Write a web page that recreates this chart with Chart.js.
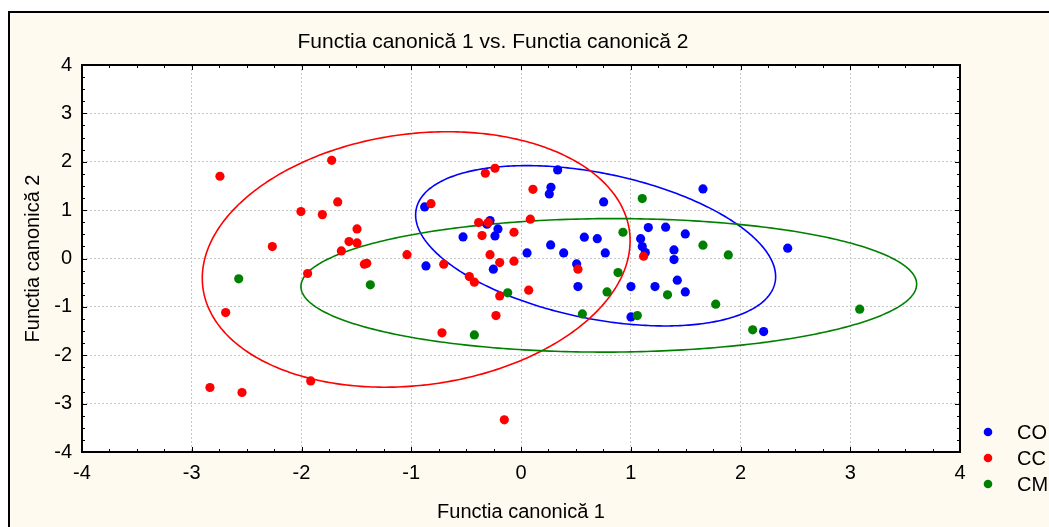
<!DOCTYPE html>
<html>
<head>
<meta charset="utf-8">
<script src="https://cdn.jsdelivr.net/npm/chart.js@4/dist/chart.umd.min.js"></script>
<style>
  html, body { margin: 0; padding: 0; background: #ffffff; }
  canvas { display: block; }
</style>
</head>
<body>
<canvas id="chart" width="1049" height="527"></canvas>
<script>
// Group labels
const groups = ['CO', 'CC', 'CM'];

// Canonical scores, function 1 (x) and function 2 (y), per group
const coX = [0.334, 0.273, 0.258, 0.753, 1.658, -0.878, -0.282, -0.31, -0.21, -0.237, -0.528, 0.577, 0.695, 1.16, 1.318, 0.27, 0.055, 0.389, 0.768, 1.09, 1.105, 1.133, 1.497, 1.394, 1.394, 2.43, -0.866, -0.252, 0.507, 0.519, 1.002, 1.221, 1.424, 1.497, 1.002, 2.211];
const coY = [1.83, 1.473, 1.335, 1.17, 1.438, 1.066, 0.783, 0.71, 0.612, 0.467, 0.446, 0.44, 0.41, 0.64, 0.647, 0.281, 0.116, 0.116, 0.116, 0.41, 0.246, 0.122, 0.508, 0.178, -0.023, 0.213, -0.153, -0.221, -0.112, -0.58, -0.58, -0.58, -0.449, -0.69, -1.207, -1.51];

const ccX = [-2.743, -1.725, -2.005, -1.81, -1.67, -2.266, -1.494, -1.567, -1.494, -1.637, -1.944, -1.427, -1.405, -2.691, -2.834, -2.542, -1.916, -0.325, -0.237, 0.109, -0.82, -0.386, -0.298, 0.085, -0.355, -0.064, 1.117, -1.039, -0.282, -0.704, -0.194, -0.064, 0.519, -0.471, -0.425, -0.194, 0.07, -0.228, -0.72, -0.152];
const ccY = [1.70, 2.03, 0.97, 0.907, 1.17, 0.246, 0.612, 0.35, 0.322, 0.157, -0.31, -0.118, -0.10, -1.117, -2.667, -2.77, -2.53, 1.762, 1.866, 1.43, 1.134, 0.742, 0.742, 0.812, 0.473, 0.543, 0.047, 0.08, 0.08, -0.118, -0.085, -0.056, -0.221, -0.374, -0.49, -0.773, -0.655, -1.18, -1.537, -3.335];

const cmX = [-2.572, -1.373, -0.121, -0.425, 0.559, 0.784, 0.884, 0.929, 1.105, 1.06, 1.335, 1.658, 1.774, 1.889, 2.111, 3.086];
const cmY = [-0.42, -0.545, -0.71, -1.579, -1.145, -0.69, -0.291, 0.543, 1.238, -1.18, -0.75, 0.275, -0.944, 0.074, -1.475, -1.048];

// Confidence ellipses per group (data units):
// x = cx + ax*cos t,  y = cy + bx*cos t + by*sin t
const ellCx = [0.68, -0.955, 0.80];
const ellCy = [0.263, -0.02, -0.555];
const ellAx = [1.64, 1.949, 2.805];
const ellBx = [-0.637, 0.386, 0.024];
const ellBy = [1.53, 2.612, 1.38];

// Axis ticks
const tickValues = [-4, -3, -2, -1, 0, 1, 2, 3, 4];

const colors = ['#0000ff', '#ff0000', '#008000'];
const FONT = '"Liberation Sans", Arial, sans-serif';

function toPoints(xs, ys) {
  return xs.map((x, i) => ({ x: x, y: ys[i] }));
}

const seriesX = [coX, ccX, cmX];
const seriesY = [coY, ccY, cmY];

const datasets = groups.map((g, i) => ({
  label: g,
  data: toPoints(seriesX[i], seriesY[i]),
  backgroundColor: colors[i],
  borderColor: colors[i],
  pointRadius: 4.6,
  pointBorderWidth: 0,
  pointHoverRadius: 4.6,
  order: groups.length - i
}));

// Page background, outer frame and white plot area
const backdrop = {
  id: 'backdrop',
  beforeDraw(chart) {
    const { ctx, chartArea: a } = chart;
    ctx.save();
    ctx.fillStyle = '#ffffff';
    ctx.fillRect(0, 0, chart.width, chart.height);
    ctx.fillStyle = '#fffaf0';
    ctx.fillRect(9, 12, chart.width - 9, chart.height - 12);
    ctx.strokeStyle = '#000000';
    ctx.lineWidth = 2;
    ctx.beginPath();
    ctx.moveTo(chart.width, 12);
    ctx.lineTo(9, 12);
    ctx.lineTo(9, chart.height);
    ctx.stroke();
    ctx.fillStyle = '#ffffff';
    ctx.fillRect(a.left, a.top, a.right - a.left, a.bottom - a.top);
    ctx.restore();
  }
};

// Group ellipses drawn through the chart scales
const ellipses = {
  id: 'ellipses',
  beforeDatasetsDraw(chart) {
    const { ctx, scales: { x, y } } = chart;
    ctx.save();
    ctx.lineWidth = 1.6;
    for (let g = 0; g < groups.length; g++) {
      ctx.strokeStyle = colors[g];
      ctx.beginPath();
      for (let k = 0; k <= 360; k++) {
        const t = k * Math.PI / 180;
        const vx = ellCx[g] + ellAx[g] * Math.cos(t);
        const vy = ellCy[g] + ellBx[g] * Math.cos(t) + ellBy[g] * Math.sin(t);
        const px = x.getPixelForValue(vx);
        const py = y.getPixelForValue(vy);
        if (k === 0) ctx.moveTo(px, py); else ctx.lineTo(px, py);
      }
      ctx.closePath();
      ctx.stroke();
    }
    ctx.restore();
  }
};

// Plot frame, inward tick marks on all sides, title and legend
const frame = {
  id: 'frame',
  afterDraw(chart) {
    const { ctx, chartArea: a, scales: { x, y } } = chart;
    ctx.save();
    ctx.strokeStyle = '#000000';
    ctx.lineWidth = 1;
    ctx.beginPath();
    const step = 0.25;
    for (let v = x.min; v <= x.max + 1e-9; v += step) {
      const px = Math.round(x.getPixelForValue(v)) + 0.5;
      const len = Math.abs(v - Math.round(v)) < 1e-9 ? 5 : 3;
      ctx.moveTo(px, a.bottom); ctx.lineTo(px, a.bottom - len);
      ctx.moveTo(px, a.top); ctx.lineTo(px, a.top + len);
    }
    for (let v = y.min; v <= y.max + 1e-9; v += step) {
      const py = Math.round(y.getPixelForValue(v)) + 0.5;
      const len = Math.abs(v - Math.round(v)) < 1e-9 ? 5 : 3;
      ctx.moveTo(a.left, py); ctx.lineTo(a.left + len, py);
      ctx.moveTo(a.right, py); ctx.lineTo(a.right - len, py);
    }
    ctx.stroke();
    ctx.lineWidth = 2;
    ctx.strokeRect(a.left, a.top, a.right - a.left, a.bottom - a.top);

    // Title
    ctx.fillStyle = '#000000';
    ctx.font = '21px ' + FONT;
    ctx.textAlign = 'center';
    ctx.textBaseline = 'middle';
    ctx.fillText('Functia canonică 1 vs. Functia canonică 2', 493, 42);

    // Legend
    ctx.font = '20px ' + FONT;
    const items = chart.data.datasets;
    ctx.textAlign = 'left';
    items.forEach((ds, i) => {
      const cy = 432 + i * 26;
      ctx.fillStyle = ds.backgroundColor;
      ctx.beginPath();
      ctx.arc(988, cy, 4.3, 0, Math.PI * 2);
      ctx.fill();
      ctx.fillStyle = '#000000';
      ctx.fillText(ds.label, 1017, cy + 1);
    });
    ctx.restore();
  }
};

new Chart(document.getElementById('chart'), {
  type: 'scatter',
  data: { datasets: datasets },
  options: {
    responsive: false,
    animation: false,
    layout: { padding: { left: 0, top: 65, right: 89, bottom: 0 } },
    plugins: {
      legend: { display: false },
      title: { display: false },
      tooltip: { enabled: false }
    },
    scales: {
      x: {
        type: 'linear',
        min: -4, max: 4,
        afterBuildTicks(scale) { scale.ticks = tickValues.map(v => ({ value: v })); },
        afterFit(scale) { scale.height = 75; },
        ticks: {
          padding: 9,
          color: '#000000',
          font: { size: 20, family: FONT },
          maxRotation: 0,
          callback: v => String(v)
        },
        grid: { color: '#c8c8c8', lineWidth: 1, drawTicks: false },
        border: { display: false, dash: [2, 2] },
        title: {
          display: true,
          text: 'Functia canonică 1',
          color: '#000000',
          font: { size: 20, family: FONT },
          padding: { top: 0, bottom: 3 }
        }
      },
      y: {
        type: 'linear',
        min: -4, max: 4,
        afterBuildTicks(scale) { scale.ticks = tickValues.map(v => ({ value: v })); },
        afterFit(scale) { scale.width = 82; },
        ticks: {
          padding: 10,
          color: '#000000',
          font: { size: 20, family: FONT },
          callback: v => String(v)
        },
        grid: { color: '#c8c8c8', lineWidth: 1, drawTicks: false },
        border: { display: false, dash: [2, 2] },
        title: {
          display: true,
          text: 'Functia canonică 2',
          color: '#000000',
          font: { size: 20, family: FONT },
          padding: { top: 21, bottom: 0 }
        }
      }
    }
  },
  plugins: [backdrop, ellipses, frame]
});
</script>
</body>
</html>
